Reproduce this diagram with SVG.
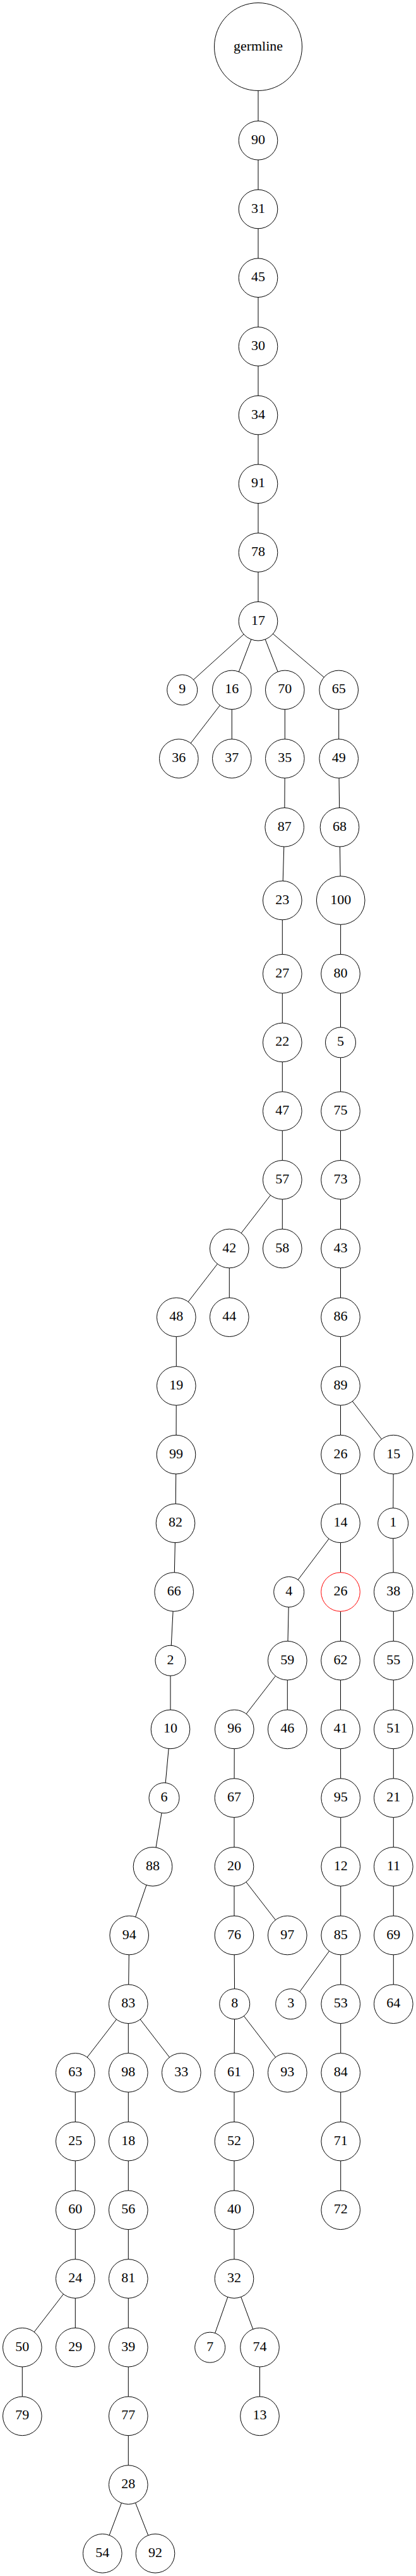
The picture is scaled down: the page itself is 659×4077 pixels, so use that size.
<svg xmlns="http://www.w3.org/2000/svg" width="659" height="4077" viewBox="0 0 659 4077">
<style>
.n circle{fill:#fff;stroke:#000;stroke-width:1}
.n.red circle{stroke:#f00}
.n text{font-family:"Liberation Serif","Times New Roman",serif;font-size:22px;text-anchor:middle;fill:#000}
.e line{stroke:#000;stroke-width:1}
</style>
<rect width="659" height="4077" fill="#fff"/>
<g id="edges" class="e">
<line x1="409" y1="74" x2="409" y2="222.3"/>
<line x1="409" y1="222.3" x2="409" y2="331"/>
<line x1="409" y1="331" x2="409" y2="439.7"/>
<line x1="409" y1="439.7" x2="409" y2="548.4"/>
<line x1="409" y1="548.4" x2="409" y2="657.1"/>
<line x1="409" y1="657.1" x2="409" y2="765.8"/>
<line x1="409" y1="765.8" x2="409" y2="874.5"/>
<line x1="409" y1="874.5" x2="409" y2="983.2"/>
<line x1="409" y1="983.2" x2="288.7" y2="1091.9"/>
<line x1="409" y1="983.2" x2="367.3" y2="1091.9"/>
<line x1="409" y1="983.2" x2="451.3" y2="1091.9"/>
<line x1="409" y1="983.2" x2="536.7" y2="1091.9"/>
<line x1="367.3" y1="1091.9" x2="283.3" y2="1200.6"/>
<line x1="367.3" y1="1091.9" x2="367.3" y2="1200.6"/>
<line x1="451.3" y1="1091.9" x2="451.3" y2="1200.6"/>
<line x1="451.3" y1="1200.6" x2="450.7" y2="1309.3"/>
<line x1="450.7" y1="1309.3" x2="447.3" y2="1425"/>
<line x1="447.3" y1="1425" x2="447.3" y2="1541.2"/>
<line x1="447.3" y1="1541.2" x2="447.3" y2="1649.9"/>
<line x1="447.3" y1="1649.9" x2="447.3" y2="1758.6"/>
<line x1="447.3" y1="1758.6" x2="447.3" y2="1867.3"/>
<line x1="447.3" y1="1867.3" x2="363.3" y2="1976"/>
<line x1="447.3" y1="1867.3" x2="447.3" y2="1976"/>
<line x1="363.3" y1="1976" x2="279.3" y2="2084.7"/>
<line x1="363.3" y1="1976" x2="363.3" y2="2084.7"/>
<line x1="279.3" y1="2084.7" x2="279.3" y2="2193.4"/>
<line x1="279.3" y1="2193.4" x2="279" y2="2302.1"/>
<line x1="279" y1="2302.1" x2="278" y2="2410.8"/>
<line x1="278" y1="2410.8" x2="275.7" y2="2519.5"/>
<line x1="275.7" y1="2519.5" x2="270" y2="2628.2"/>
<line x1="270" y1="2628.2" x2="270" y2="2736.9"/>
<line x1="270" y1="2736.9" x2="260" y2="2845.6"/>
<line x1="260" y1="2845.6" x2="242" y2="2954.3"/>
<line x1="242" y1="2954.3" x2="204.7" y2="3063"/>
<line x1="204.7" y1="3063" x2="203.3" y2="3171.7"/>
<line x1="203.3" y1="3171.7" x2="119.3" y2="3280.4"/>
<line x1="203.3" y1="3171.7" x2="203.3" y2="3280.4"/>
<line x1="203.3" y1="3171.7" x2="287.3" y2="3280.4"/>
<line x1="119.3" y1="3280.4" x2="119.3" y2="3389.1"/>
<line x1="119.3" y1="3389.1" x2="119.3" y2="3497.8"/>
<line x1="119.3" y1="3497.8" x2="119.3" y2="3606.5"/>
<line x1="119.3" y1="3606.5" x2="35.3" y2="3715.2"/>
<line x1="119.3" y1="3606.5" x2="119.3" y2="3715.2"/>
<line x1="35.3" y1="3715.2" x2="35.3" y2="3823.9"/>
<line x1="203.3" y1="3280.4" x2="203.3" y2="3389.1"/>
<line x1="203.3" y1="3389.1" x2="203.3" y2="3497.8"/>
<line x1="203.3" y1="3497.8" x2="203.3" y2="3606.5"/>
<line x1="203.3" y1="3606.5" x2="203.3" y2="3715.2"/>
<line x1="203.3" y1="3715.2" x2="203.3" y2="3823.9"/>
<line x1="203.3" y1="3823.9" x2="203.3" y2="3932.6"/>
<line x1="203.3" y1="3932.6" x2="162.3" y2="4041.3"/>
<line x1="203.3" y1="3932.6" x2="246" y2="4041.3"/>
<line x1="536.7" y1="1091.9" x2="536.7" y2="1200.6"/>
<line x1="536.7" y1="1200.6" x2="538" y2="1309.3"/>
<line x1="538" y1="1309.3" x2="539.7" y2="1425"/>
<line x1="539.7" y1="1425" x2="539.5" y2="1541.2"/>
<line x1="539.5" y1="1541.2" x2="539.5" y2="1649.9"/>
<line x1="539.5" y1="1649.9" x2="539.5" y2="1758.6"/>
<line x1="539.5" y1="1758.6" x2="539.5" y2="1867.3"/>
<line x1="539.5" y1="1867.3" x2="539.5" y2="1976"/>
<line x1="539.5" y1="1976" x2="539.5" y2="2084.7"/>
<line x1="539.5" y1="2084.7" x2="539.5" y2="2193.4"/>
<line x1="539.5" y1="2193.4" x2="539.5" y2="2302.1"/>
<line x1="539.5" y1="2193.4" x2="623.3" y2="2302.1"/>
<line x1="539.5" y1="2302.1" x2="539.5" y2="2410.8"/>
<line x1="539.5" y1="2410.8" x2="457.7" y2="2519.5"/>
<line x1="539.5" y1="2410.8" x2="539.5" y2="2519.5"/>
<line x1="457.7" y1="2519.5" x2="455.3" y2="2628.2"/>
<line x1="455.3" y1="2628.2" x2="371.3" y2="2736.9"/>
<line x1="455.3" y1="2628.2" x2="455.3" y2="2736.9"/>
<line x1="371.3" y1="2736.9" x2="371" y2="2845.6"/>
<line x1="371" y1="2845.6" x2="371" y2="2954.3"/>
<line x1="371" y1="2954.3" x2="371" y2="3063"/>
<line x1="371" y1="2954.3" x2="455.3" y2="3063"/>
<line x1="371" y1="3063" x2="371.7" y2="3171.7"/>
<line x1="371.7" y1="3171.7" x2="371" y2="3280.4"/>
<line x1="371.7" y1="3171.7" x2="455.3" y2="3280.4"/>
<line x1="371" y1="3280.4" x2="371" y2="3389.1"/>
<line x1="371" y1="3389.1" x2="371" y2="3497.8"/>
<line x1="371" y1="3497.8" x2="371" y2="3606.5"/>
<line x1="371" y1="3606.5" x2="332.7" y2="3715.2"/>
<line x1="371" y1="3606.5" x2="411.5" y2="3715.2"/>
<line x1="411.5" y1="3715.2" x2="411.5" y2="3823.9"/>
<line x1="539.5" y1="2519.5" x2="539.5" y2="2628.2"/>
<line x1="539.5" y1="2628.2" x2="539.5" y2="2736.9"/>
<line x1="539.5" y1="2736.9" x2="539.7" y2="2845.6"/>
<line x1="539.7" y1="2845.6" x2="539.7" y2="2954.3"/>
<line x1="539.7" y1="2954.3" x2="539.7" y2="3063"/>
<line x1="539.7" y1="3063" x2="460.7" y2="3171.7"/>
<line x1="539.7" y1="3063" x2="539.7" y2="3171.7"/>
<line x1="539.7" y1="3171.7" x2="539.7" y2="3280.4"/>
<line x1="539.7" y1="3280.4" x2="539.7" y2="3389.1"/>
<line x1="539.7" y1="3389.1" x2="539.7" y2="3497.8"/>
<line x1="623.3" y1="2302.1" x2="622.7" y2="2410.8"/>
<line x1="622.7" y1="2410.8" x2="623.3" y2="2519.5"/>
<line x1="623.3" y1="2519.5" x2="623.3" y2="2628.2"/>
<line x1="623.3" y1="2628.2" x2="623.3" y2="2736.9"/>
<line x1="623.3" y1="2736.9" x2="623.3" y2="2845.6"/>
<line x1="623.3" y1="2845.6" x2="623.3" y2="2954.3"/>
<line x1="623.3" y1="2954.3" x2="623.3" y2="3063"/>
<line x1="623.3" y1="3063" x2="623.3" y2="3171.7"/>
</g>
<g id="germline" class="n"><circle cx="409" cy="74" r="69.5"/><text x="409" y="79.5">germline</text></g>
<g id="n90" class="n"><circle cx="409" cy="222.3" r="30.8"/><text x="409" y="227.8">90</text></g>
<g id="n31" class="n"><circle cx="409" cy="331" r="30.8"/><text x="409" y="336.5">31</text></g>
<g id="n45" class="n"><circle cx="409" cy="439.7" r="30.8"/><text x="409" y="445.2">45</text></g>
<g id="n30" class="n"><circle cx="409" cy="548.4" r="30.8"/><text x="409" y="553.9">30</text></g>
<g id="n34" class="n"><circle cx="409" cy="657.1" r="30.8"/><text x="409" y="662.6">34</text></g>
<g id="n91" class="n"><circle cx="409" cy="765.8" r="30.8"/><text x="409" y="771.3">91</text></g>
<g id="n78" class="n"><circle cx="409" cy="874.5" r="30.8"/><text x="409" y="880">78</text></g>
<g id="n17" class="n"><circle cx="409" cy="983.2" r="30.8"/><text x="409" y="988.7">17</text></g>
<g id="n9" class="n"><circle cx="288.7" cy="1091.9" r="24"/><text x="288.7" y="1097.4">9</text></g>
<g id="n16" class="n"><circle cx="367.3" cy="1091.9" r="30.8"/><text x="367.3" y="1097.4">16</text></g>
<g id="n70" class="n"><circle cx="451.3" cy="1091.9" r="30.8"/><text x="451.3" y="1097.4">70</text></g>
<g id="n65" class="n"><circle cx="536.7" cy="1091.9" r="30.8"/><text x="536.7" y="1097.4">65</text></g>
<g id="n36" class="n"><circle cx="283.3" cy="1200.6" r="30.8"/><text x="283.3" y="1206.1">36</text></g>
<g id="n37" class="n"><circle cx="367.3" cy="1200.6" r="30.8"/><text x="367.3" y="1206.1">37</text></g>
<g id="n35" class="n"><circle cx="451.3" cy="1200.6" r="30.8"/><text x="451.3" y="1206.1">35</text></g>
<g id="n49" class="n"><circle cx="536.7" cy="1200.6" r="30.8"/><text x="536.7" y="1206.1">49</text></g>
<g id="n87" class="n"><circle cx="450.7" cy="1309.3" r="30.8"/><text x="450.7" y="1314.8">87</text></g>
<g id="n68" class="n"><circle cx="538" cy="1309.3" r="30.8"/><text x="538" y="1314.8">68</text></g>
<g id="n23" class="n"><circle cx="447.3" cy="1425" r="30.8"/><text x="447.3" y="1430.5">23</text></g>
<g id="n100" class="n"><circle cx="539.7" cy="1425" r="38.3"/><text x="539.7" y="1430.5">100</text></g>
<g id="n27" class="n"><circle cx="447.3" cy="1541.2" r="30.8"/><text x="447.3" y="1546.7">27</text></g>
<g id="n80" class="n"><circle cx="539.5" cy="1541.2" r="30.8"/><text x="539.5" y="1546.7">80</text></g>
<g id="n22" class="n"><circle cx="447.3" cy="1649.9" r="30.8"/><text x="447.3" y="1655.4">22</text></g>
<g id="n5" class="n"><circle cx="539.5" cy="1649.9" r="24"/><text x="539.5" y="1655.4">5</text></g>
<g id="n47" class="n"><circle cx="447.3" cy="1758.6" r="30.8"/><text x="447.3" y="1764.1">47</text></g>
<g id="n75" class="n"><circle cx="539.5" cy="1758.6" r="30.8"/><text x="539.5" y="1764.1">75</text></g>
<g id="n57" class="n"><circle cx="447.3" cy="1867.3" r="30.8"/><text x="447.3" y="1872.8">57</text></g>
<g id="n73" class="n"><circle cx="539.5" cy="1867.3" r="30.8"/><text x="539.5" y="1872.8">73</text></g>
<g id="n42" class="n"><circle cx="363.3" cy="1976" r="30.8"/><text x="363.3" y="1981.5">42</text></g>
<g id="n58" class="n"><circle cx="447.3" cy="1976" r="30.8"/><text x="447.3" y="1981.5">58</text></g>
<g id="n43" class="n"><circle cx="539.5" cy="1976" r="30.8"/><text x="539.5" y="1981.5">43</text></g>
<g id="n48" class="n"><circle cx="279.3" cy="2084.7" r="30.8"/><text x="279.3" y="2090.2">48</text></g>
<g id="n44" class="n"><circle cx="363.3" cy="2084.7" r="30.8"/><text x="363.3" y="2090.2">44</text></g>
<g id="n86" class="n"><circle cx="539.5" cy="2084.7" r="30.8"/><text x="539.5" y="2090.2">86</text></g>
<g id="n19" class="n"><circle cx="279.3" cy="2193.4" r="30.8"/><text x="279.3" y="2198.9">19</text></g>
<g id="n89" class="n"><circle cx="539.5" cy="2193.4" r="30.8"/><text x="539.5" y="2198.9">89</text></g>
<g id="n99" class="n"><circle cx="279" cy="2302.1" r="30.8"/><text x="279" y="2307.6">99</text></g>
<g id="n26a" class="n"><circle cx="539.5" cy="2302.1" r="30.8"/><text x="539.5" y="2307.6">26</text></g>
<g id="n15" class="n"><circle cx="623.3" cy="2302.1" r="30.8"/><text x="623.3" y="2307.6">15</text></g>
<g id="n82" class="n"><circle cx="278" cy="2410.8" r="30.8"/><text x="278" y="2416.3">82</text></g>
<g id="n14" class="n"><circle cx="539.5" cy="2410.8" r="30.8"/><text x="539.5" y="2416.3">14</text></g>
<g id="n1" class="n"><circle cx="622.7" cy="2410.8" r="24"/><text x="622.7" y="2416.3">1</text></g>
<g id="n66" class="n"><circle cx="275.7" cy="2519.5" r="30.8"/><text x="275.7" y="2525">66</text></g>
<g id="n4" class="n"><circle cx="457.7" cy="2519.5" r="24"/><text x="457.7" y="2525">4</text></g>
<g id="n26b" class="n red"><circle cx="539.5" cy="2519.5" r="30.8"/><text x="539.5" y="2525">26</text></g>
<g id="n38" class="n"><circle cx="623.3" cy="2519.5" r="30.8"/><text x="623.3" y="2525">38</text></g>
<g id="n2" class="n"><circle cx="270" cy="2628.2" r="24"/><text x="270" y="2633.7">2</text></g>
<g id="n59" class="n"><circle cx="455.3" cy="2628.2" r="30.8"/><text x="455.3" y="2633.7">59</text></g>
<g id="n62" class="n"><circle cx="539.5" cy="2628.2" r="30.8"/><text x="539.5" y="2633.7">62</text></g>
<g id="n55" class="n"><circle cx="623.3" cy="2628.2" r="30.8"/><text x="623.3" y="2633.7">55</text></g>
<g id="n10" class="n"><circle cx="270" cy="2736.9" r="30.8"/><text x="270" y="2742.4">10</text></g>
<g id="n96" class="n"><circle cx="371.3" cy="2736.9" r="30.8"/><text x="371.3" y="2742.4">96</text></g>
<g id="n46" class="n"><circle cx="455.3" cy="2736.9" r="30.8"/><text x="455.3" y="2742.4">46</text></g>
<g id="n41" class="n"><circle cx="539.5" cy="2736.9" r="30.8"/><text x="539.5" y="2742.4">41</text></g>
<g id="n51" class="n"><circle cx="623.3" cy="2736.9" r="30.8"/><text x="623.3" y="2742.4">51</text></g>
<g id="n6" class="n"><circle cx="260" cy="2845.6" r="24"/><text x="260" y="2851.1">6</text></g>
<g id="n67" class="n"><circle cx="371" cy="2845.6" r="30.8"/><text x="371" y="2851.1">67</text></g>
<g id="n95" class="n"><circle cx="539.7" cy="2845.6" r="30.8"/><text x="539.7" y="2851.1">95</text></g>
<g id="n21" class="n"><circle cx="623.3" cy="2845.6" r="30.8"/><text x="623.3" y="2851.1">21</text></g>
<g id="n88" class="n"><circle cx="242" cy="2954.3" r="30.8"/><text x="242" y="2959.8">88</text></g>
<g id="n20" class="n"><circle cx="371" cy="2954.3" r="30.8"/><text x="371" y="2959.8">20</text></g>
<g id="n12" class="n"><circle cx="539.7" cy="2954.3" r="30.8"/><text x="539.7" y="2959.8">12</text></g>
<g id="n11" class="n"><circle cx="623.3" cy="2954.3" r="30.8"/><text x="623.3" y="2959.8">11</text></g>
<g id="n94" class="n"><circle cx="204.7" cy="3063" r="30.8"/><text x="204.7" y="3068.5">94</text></g>
<g id="n76" class="n"><circle cx="371" cy="3063" r="30.8"/><text x="371" y="3068.5">76</text></g>
<g id="n97" class="n"><circle cx="455.3" cy="3063" r="30.8"/><text x="455.3" y="3068.5">97</text></g>
<g id="n85" class="n"><circle cx="539.7" cy="3063" r="30.8"/><text x="539.7" y="3068.5">85</text></g>
<g id="n69" class="n"><circle cx="623.3" cy="3063" r="30.8"/><text x="623.3" y="3068.5">69</text></g>
<g id="n83" class="n"><circle cx="203.3" cy="3171.7" r="30.8"/><text x="203.3" y="3177.2">83</text></g>
<g id="n8" class="n"><circle cx="371.7" cy="3171.7" r="24"/><text x="371.7" y="3177.2">8</text></g>
<g id="n3" class="n"><circle cx="460.7" cy="3171.7" r="24"/><text x="460.7" y="3177.2">3</text></g>
<g id="n53" class="n"><circle cx="539.7" cy="3171.7" r="30.8"/><text x="539.7" y="3177.2">53</text></g>
<g id="n64" class="n"><circle cx="623.3" cy="3171.7" r="30.8"/><text x="623.3" y="3177.2">64</text></g>
<g id="n63" class="n"><circle cx="119.3" cy="3280.4" r="30.8"/><text x="119.3" y="3285.9">63</text></g>
<g id="n98" class="n"><circle cx="203.3" cy="3280.4" r="30.8"/><text x="203.3" y="3285.9">98</text></g>
<g id="n33" class="n"><circle cx="287.3" cy="3280.4" r="30.8"/><text x="287.3" y="3285.9">33</text></g>
<g id="n61" class="n"><circle cx="371" cy="3280.4" r="30.8"/><text x="371" y="3285.9">61</text></g>
<g id="n93" class="n"><circle cx="455.3" cy="3280.4" r="30.8"/><text x="455.3" y="3285.9">93</text></g>
<g id="n84" class="n"><circle cx="539.7" cy="3280.4" r="30.8"/><text x="539.7" y="3285.9">84</text></g>
<g id="n25" class="n"><circle cx="119.3" cy="3389.1" r="30.8"/><text x="119.3" y="3394.6">25</text></g>
<g id="n18" class="n"><circle cx="203.3" cy="3389.1" r="30.8"/><text x="203.3" y="3394.6">18</text></g>
<g id="n52" class="n"><circle cx="371" cy="3389.1" r="30.8"/><text x="371" y="3394.6">52</text></g>
<g id="n71" class="n"><circle cx="539.7" cy="3389.1" r="30.8"/><text x="539.7" y="3394.6">71</text></g>
<g id="n60" class="n"><circle cx="119.3" cy="3497.8" r="30.8"/><text x="119.3" y="3503.3">60</text></g>
<g id="n56" class="n"><circle cx="203.3" cy="3497.8" r="30.8"/><text x="203.3" y="3503.3">56</text></g>
<g id="n40" class="n"><circle cx="371" cy="3497.8" r="30.8"/><text x="371" y="3503.3">40</text></g>
<g id="n72" class="n"><circle cx="539.7" cy="3497.8" r="30.8"/><text x="539.7" y="3503.3">72</text></g>
<g id="n24" class="n"><circle cx="119.3" cy="3606.5" r="30.8"/><text x="119.3" y="3612">24</text></g>
<g id="n81" class="n"><circle cx="203.3" cy="3606.5" r="30.8"/><text x="203.3" y="3612">81</text></g>
<g id="n32" class="n"><circle cx="371" cy="3606.5" r="30.8"/><text x="371" y="3612">32</text></g>
<g id="n50" class="n"><circle cx="35.3" cy="3715.2" r="30.8"/><text x="35.3" y="3720.7">50</text></g>
<g id="n29" class="n"><circle cx="119.3" cy="3715.2" r="30.8"/><text x="119.3" y="3720.7">29</text></g>
<g id="n39" class="n"><circle cx="203.3" cy="3715.2" r="30.8"/><text x="203.3" y="3720.7">39</text></g>
<g id="n7" class="n"><circle cx="332.7" cy="3715.2" r="24"/><text x="332.7" y="3720.7">7</text></g>
<g id="n74" class="n"><circle cx="411.5" cy="3715.2" r="30.8"/><text x="411.5" y="3720.7">74</text></g>
<g id="n79" class="n"><circle cx="35.3" cy="3823.9" r="30.8"/><text x="35.3" y="3829.4">79</text></g>
<g id="n77" class="n"><circle cx="203.3" cy="3823.9" r="30.8"/><text x="203.3" y="3829.4">77</text></g>
<g id="n13" class="n"><circle cx="411.5" cy="3823.9" r="30.8"/><text x="411.5" y="3829.4">13</text></g>
<g id="n28" class="n"><circle cx="203.3" cy="3932.6" r="30.8"/><text x="203.3" y="3938.1">28</text></g>
<g id="n54" class="n"><circle cx="162.3" cy="4041.3" r="30.8"/><text x="162.3" y="4046.8">54</text></g>
<g id="n92" class="n"><circle cx="246" cy="4041.3" r="30.8"/><text x="246" y="4046.8">92</text></g>
</svg>
